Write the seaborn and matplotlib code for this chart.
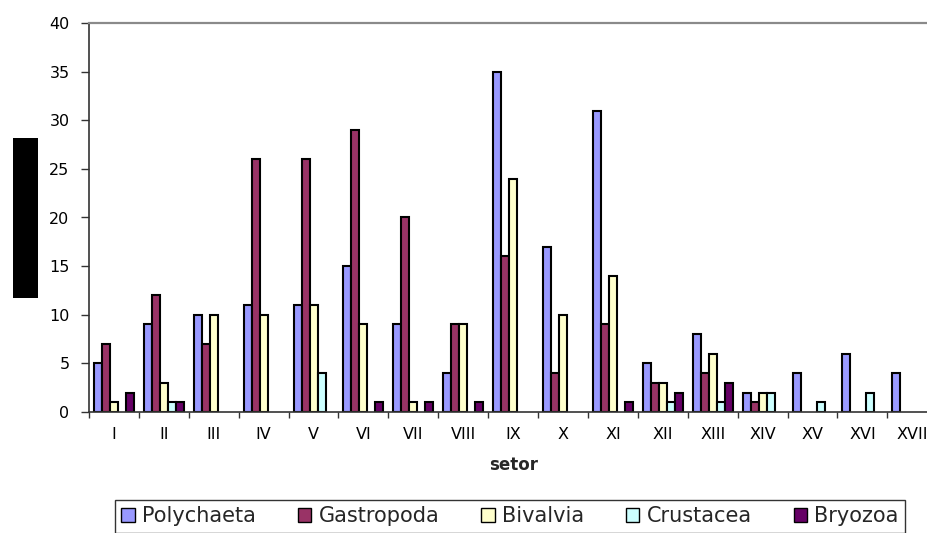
import matplotlib
matplotlib.use("Agg")
import matplotlib.pyplot as plt
from matplotlib.patches import Patch, Rectangle
from matplotlib.ticker import FixedLocator
import numpy as np
import pandas as pd
import seaborn as sns

# Sectors along the x axis
setores = ["I", "II", "III", "IV", "V", "VI", "VII", "VIII", "IX",
           "X", "XI", "XII", "XIII", "XIV", "XV", "XVI", "XVII"]

# Counts per taxonomic group and sector
polychaeta = [5, 9, 10, 11, 11, 15, 9, 4, 35, 17, 31, 5, 8, 2, 4, 6, 4]
gastropoda = [7, 12, 7, 26, 26, 29, 20, 9, 16, 4, 9, 3, 4, 1, 0, 0, 0]
bivalvia = [1, 3, 10, 10, 11, 9, 1, 9, 24, 10, 14, 3, 6, 2, 0, 0, 0]
crustacea = [0, 1, 0, 0, 4, 0, 0, 0, 0, 0, 0, 1, 1, 2, 1, 2, 0]
bryozoa = [2, 1, 0, 0, 0, 1, 1, 1, 0, 0, 1, 2, 3, 0, 0, 0, 0]

grupos = ["Polychaeta", "Gastropoda", "Bivalvia", "Crustacea", "Bryozoa"]
cores = ["#9999FF", "#993366", "#FFFFCC", "#CCFFFF", "#660066"]
y_ticks = [0, 5, 10, 15, 20, 25, 30, 35, 40]

series = [polychaeta, gastropoda, bivalvia, crustacea, bryozoa]
df = pd.DataFrame({
    "setor": np.tile(setores, len(grupos)),
    "grupo": np.repeat(grupos, len(setores)),
    "valor": np.concatenate(series),
})
df_plot = df[df["valor"] > 0]

sns.set_theme(style="white")
plt.rcParams["font.family"] = ["DejaVu Sans"]

W, H = 928, 533
fig = plt.figure(figsize=(W / 100, H / 100), dpi=100)
fig.patch.set_facecolor("white")

# Plot area: left edge at 89 px, baseline at 412 px, top at 23 px
cat_w = 49.9
ax = fig.add_axes([89 / W, (H - 412) / H, 17 * cat_w / W, 389 / H])

sns.barplot(data=df_plot, x="setor", y="valor", hue="grupo",
            order=setores, hue_order=grupos, palette=cores,
            width=0.8, errorbar=None, edgecolor="black", linewidth=1.5,
            saturation=1, legend=False, ax=ax)

ax.set_xlim(-0.5, len(setores) - 0.5)
ax.set_ylim(0, 40)
ax.set_yticks(y_ticks)
ax.set_yticklabels([str(v) for v in y_ticks])
ax.set_ylabel("")

# Category labels centred, tick marks between categories
ax.xaxis.set_minor_locator(FixedLocator(np.arange(-0.5, len(setores), 1.0)))
ax.tick_params(axis="x", which="major", length=0, pad=11, labelsize=11.5,
               labelcolor="black")
ax.tick_params(axis="x", which="minor", bottom=True, length=4, width=1.0,
               direction="out", color="#333333")
ax.tick_params(axis="y", which="major", left=True, length=6, width=1.0,
               direction="out", color="#333333", pad=8, labelsize=11.5,
               labelcolor="black")

ax.set_xlabel("setor", fontsize=12, fontweight="bold")
ax.xaxis.set_label_coords(0.5, -(465 - 412) / 389)
ax.xaxis.label.set_va("center")

for side in ["left", "bottom"]:
    ax.spines[side].set_color("#333333")
    ax.spines[side].set_linewidth(1.2)
ax.spines["top"].set_color("#8a8a8a")
ax.spines["top"].set_linewidth(1.6)
ax.spines["right"].set_visible(False)

# Legend along the bottom edge
handles = [Patch(facecolor=c, edgecolor="black", linewidth=1.0) for c in cores]
leg = fig.legend(handles, grupos, loc="upper left",
                 bbox_to_anchor=(115 / W, 1 - 500 / H, 790 / W, 0.0),
                 mode="expand", ncol=5, fontsize=15, frameon=True,
                 fancybox=False, edgecolor="black", borderpad=0.3,
                 handlelength=0.65, handleheight=0.65, handletextpad=0.35,
                 borderaxespad=0.0)
leg.get_frame().set_linewidth(1.0)

# Black block on the left margin
fig.patches.append(Rectangle((12.7 / W, (H - 297.7) / H), 25 / W, 160 / H,
                             transform=fig.transFigure, facecolor="black",
                             edgecolor="none"))

fig.savefig("out.png", dpi=100)
